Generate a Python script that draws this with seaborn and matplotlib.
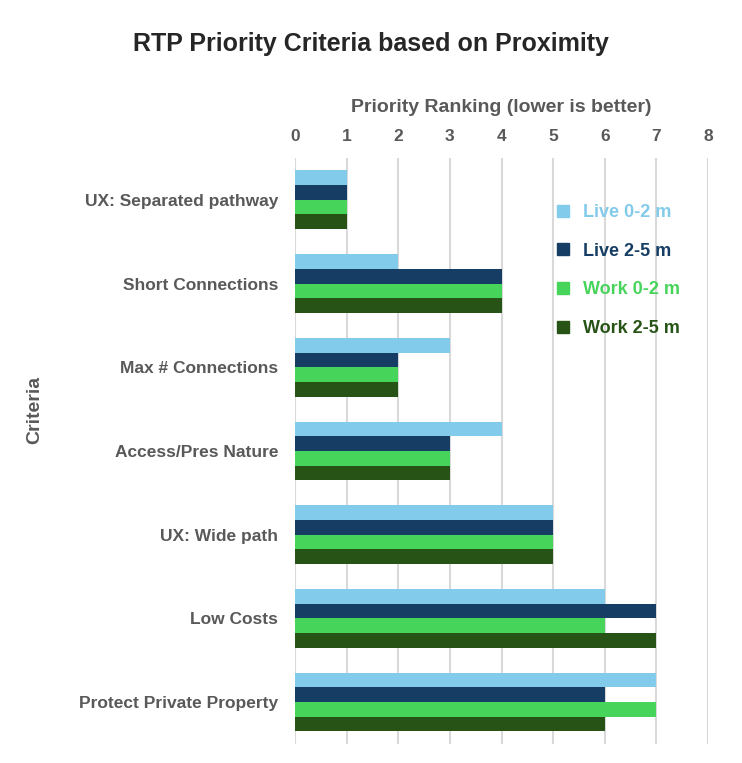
import pandas as pd
import matplotlib.pyplot as plt
import seaborn as sns
from matplotlib.lines import Line2D

# ==========================================
# DATA
# ==========================================
criteria = ["UX: Separated pathway", "Short Connections", "Max # Connections",
            "Access/Pres Nature", "UX: Wide path", "Low Costs", "Protect Private Property"]
series = ["Live 0-2 m", "Live 2-5 m", "Work 0-2 m", "Work 2-5 m"]
live_0_2 = [1, 2, 3, 4, 5, 6, 7]
live_2_5 = [1, 4, 2, 3, 5, 7, 6]
work_0_2 = [1, 4, 2, 3, 5, 6, 7]
work_2_5 = [1, 4, 2, 3, 5, 7, 6]

colors = ["#83CBEB", "#163E64", "#47D45A", "#275317"]

rows = []
for name, vals in zip(series, [live_0_2, live_2_5, work_0_2, work_2_5]):
    for c, v in zip(criteria, vals):
        rows.append({"Criteria": c, "Series": name, "Rank": v})
df = pd.DataFrame(rows)

# ==========================================
# PLOT
# ==========================================
sns.set_style("white")
plt.rcParams['font.family'] = ['Liberation Sans', 'DejaVu Sans']

fig = plt.figure(figsize=(7.42, 7.63), dpi=100)
ax = fig.add_axes([0.3976, 0.025, 0.5566, 0.768])

sns.barplot(data=df, y="Criteria", x="Rank", hue="Series", order=criteria,
            hue_order=series, palette=colors, orient="h", width=0.7,
            saturation=1, linewidth=0, ax=ax, legend=False)

ax.set_xlim(0, 8)
ax.set_xticks(range(0, 9))
ax.xaxis.tick_top()
ax.xaxis.set_label_position("top")
ax.grid(axis="x", color="#D9D9D9", linewidth=1.5)
ax.set_axisbelow(True)
for s in ax.spines.values():
    s.set_visible(False)
ax.tick_params(axis="both", length=0, labelsize=12.5, labelcolor="#595959")
ax.tick_params(axis="x", pad=10)
ax.tick_params(axis="y", pad=12)
for lbl in ax.get_xticklabels() + ax.get_yticklabels():
    lbl.set_fontweight("bold")

ax.set_xlabel("Priority Ranking (lower is better)", fontsize=14, fontweight="bold",
              color="#595959", labelpad=12)
ax.set_ylabel("")
fig.text(0.047, 0.463, "Criteria", rotation=90, fontsize=14, fontweight="bold",
         color="#595959", ha="center", va="center")

fig.suptitle("RTP Priority Criteria based on Proximity", fontsize=18, fontweight="bold",
             y=0.958, x=0.5)

handles = [Line2D([0], [0], marker="s", linestyle="", markersize=9,
                  markerfacecolor=c, markeredgecolor=c) for c in colors]
leg = ax.legend(handles, series, loc="upper left", bbox_to_anchor=(0.566, 0.949),
                frameon=False, handletextpad=0.1, labelspacing=1.2,
                prop={"weight": "bold", "size": 13})
for t, c in zip(leg.get_texts(), colors):
    t.set_color(c)

plt.savefig("out.png", dpi=100)
plt.close(fig)
